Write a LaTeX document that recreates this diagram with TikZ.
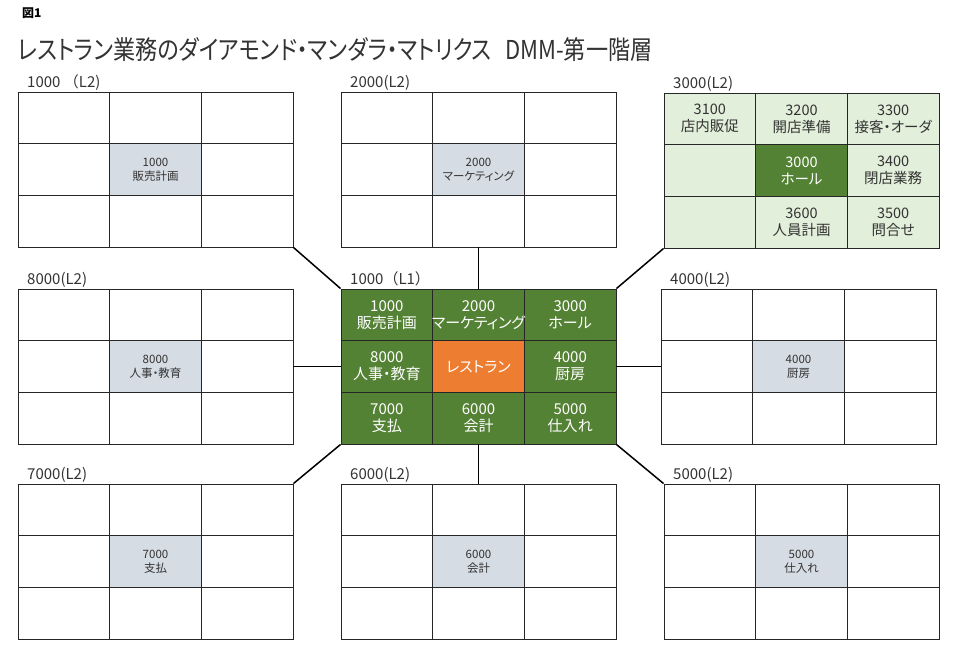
\documentclass[tikz,border=0pt]{standalone}
\usepackage{fontspec}
\setmainfont{Noto Sans CJK JP}[RawFeature=+palt]
\newfontfamily\titlefont{Noto Sans CJK JP}[RawFeature=+palt]
\newfontfamily\plainjp{Noto Sans CJK JP}
\definecolor{dgreen}{HTML}{548235}
\definecolor{lgreen}{HTML}{E2EFDA}
\definecolor{dorange}{HTML}{ED7D31}
\definecolor{subc}{HTML}{D6DCE4}
\definecolor{linec}{HTML}{262626}
\definecolor{txtc}{HTML}{333333}
\tikzset{
  cell/.style={draw=linec, line width=0.9pt, minimum width=91.67pt, minimum height=51.67pt, inner sep=0pt, align=center},
  lbl/.style={inner sep=0pt, text=txtc, font=\fontsize{15}{17}\selectfont},
  smalltext/.style={inner sep=0pt, align=center, text=txtc, font=\fontsize{11.5}{14}\selectfont},
  ltext/.style={inner sep=0pt, align=center, text=white, font=\fontsize{15}{17}\selectfont},
  gtext/.style={inner sep=0pt, align=center, text=txtc, font=\fontsize{14.5}{17}\selectfont},
  conn/.style={draw=black, line width=1.5pt},
}
\newcommand\mgrid[5][]{%
  \foreach \r in {0,1,2}{\foreach \c in {0,1,2}{
    \node[cell,#1] (#2-\r\c) at ({#3+45.83+91.67*\c},{#4+25.83+51.67*\r}) {};}}
  \node[lbl, anchor=base west] (#2-lbl) at ({#3+9},{#4-4.5}) {#5};
}
\begin{document}
\begin{tikzpicture}[x=1pt,y=-1pt]
\useasboundingbox[fill=white] (0,0) rectangle (960,651);
\node[anchor=base west, inner sep=0pt, font=\fontsize{12}{14}\selectfont\bfseries] (fig) at (22,17) {図1};
\node[anchor=base west, inner sep=0pt, text=txtc, font=\titlefont\fontsize{26}{28}\selectfont] (title) at (18,59) {\scalebox{0.85}[1]{レストラン業務のダイアモンド・マンダラ・マトリクス\hspace{0.6em}DMM-第一階層}};

% L2 blocks
\mgrid{B1}{18}{92}{\plainjp 1000 （L2)}
\node[cell, fill=subc] (B1-m) at (B1-11) {};
\node[smalltext] (B1-t) at (B1-11) {1000\\販売計画};

\mgrid{B2}{341}{92}{2000(L2)}
\node[cell, fill=subc] (B2-m) at (B2-11) {};
\node[smalltext] (B2-t) at (B2-11) {2000\\マーケティング};

\mgrid[fill=lgreen]{B3}{664}{93}{3000(L2)}
\node[cell, fill=dgreen] (B3-m) at (B3-11) {};
\node[gtext, text=white] (B3-t11) at (B3-11) {3000\\ホール};
\node[gtext] (B3-t00) at (B3-00) {3100\\店内販促};
\node[gtext] (B3-t01) at (B3-01) {3200\\開店準備};
\node[gtext] (B3-t02) at (B3-02) {3300\\接客・オーダ};
\node[gtext] (B3-t12) at (B3-12) {3400\\閉店業務};
\node[gtext] (B3-t22) at (B3-22) {3500\\問合せ};
\node[gtext] (B3-t21) at (B3-21) {3600\\人員計画};

\mgrid{B8}{18}{289}{8000(L2)}
\node[cell, fill=subc] (B8-m) at (B8-11) {};
\node[smalltext] (B8-t) at (B8-11) {8000\\人事・教育};

\mgrid{B4}{661}{289}{4000(L2)}
\node[cell, fill=subc] (B4-m) at (B4-11) {};
\node[smalltext] (B4-t) at (B4-11) {4000\\厨房};

\mgrid{B7}{18}{484}{7000(L2)}
\node[cell, fill=subc] (B7-m) at (B7-11) {};
\node[smalltext] (B7-t) at (B7-11) {7000\\支払};

\mgrid{B6}{341}{484}{6000(L2)}
\node[cell, fill=subc] (B6-m) at (B6-11) {};
\node[smalltext] (B6-t) at (B6-11) {6000\\会計};

\mgrid{B5}{664}{484}{5000(L2)}
\node[cell, fill=subc] (B5-m) at (B5-11) {};
\node[smalltext] (B5-t) at (B5-11) {5000\\仕入れ};

% L1 center block
\mgrid[fill=dgreen]{C}{341}{289}{\plainjp 1000（L1）}
\node[cell, fill=dorange] (C-m) at (C-11) {};
\node[ltext] (C-t11) at (C-11) {レストラン};
\node[ltext] (C-t00) at (C-00) {1000\\販売計画};
\node[ltext] (C-t01) at (C-01) {2000\\マーケティング};
\node[ltext] (C-t02) at (C-02) {3000\\ホール};
\node[ltext] (C-t10) at (C-10) {8000\\人事・教育};
\node[ltext] (C-t12) at (C-12) {4000\\厨房};
\node[ltext] (C-t20) at (C-20) {7000\\支払};
\node[ltext] (C-t21) at (C-21) {6000\\会計};
\node[ltext] (C-t22) at (C-22) {5000\\仕入れ};

% connectors
\draw[conn] (B1-22.south east) -- (C-00.north west);
\draw[conn] (B2-21.south) -- (C-01.north);
\draw[conn] (B3-20.south west) -- (C-02.north east);
\draw[conn] (B8-12.east) -- (C-10.west);
\draw[conn] (C-12.east) -- (B4-10.west);
\draw[conn] (C-20.south west) -- (B7-02.north east);
\draw[conn] (C-21.south) -- (B6-01.north);
\draw[conn] (C-22.south east) -- (B5-00.north west);
\end{tikzpicture}
\end{document}
